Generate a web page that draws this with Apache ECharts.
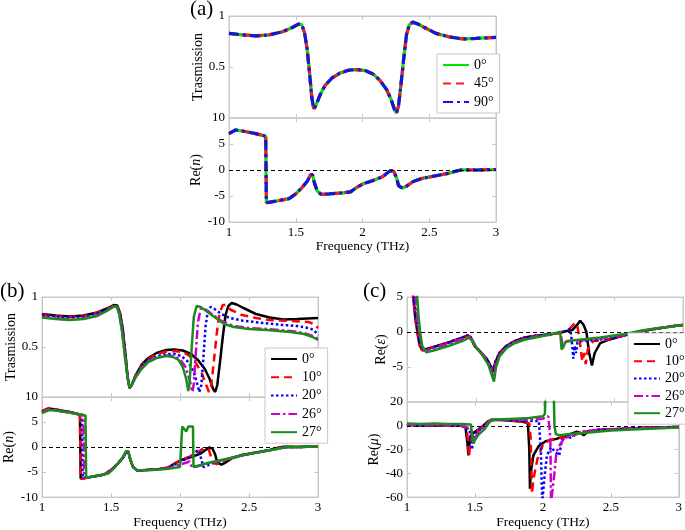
<!DOCTYPE html>
<html><head><meta charset="utf-8">
<script src="https://cdn.jsdelivr.net/npm/echarts@6/dist/echarts.min.js"></script>
<style>html,body{margin:0;padding:0;background:#fff}#c{width:685px;height:530px}</style>
</head><body><div id="c"></div>
<script>
// ---------------- DATA ----------------
// Panel (a): transmission (0°, 45°, 90° coincide)
const fA_T = [1.00,1.10,1.20,1.30,1.40,1.47,1.52,1.545,1.565,1.585,1.605,1.62,1.635,1.65,1.68,1.72,1.77,1.83,1.90,1.96,2.02,2.08,2.13,2.18,2.215,2.24,2.255,2.27,2.29,2.31,2.33,2.35,2.375,2.41,2.46,2.55,2.65,2.75,2.85,3.00];
const A_T = [0.83,0.815,0.805,0.815,0.845,0.885,0.92,0.915,0.84,0.68,0.42,0.2,0.09,0.12,0.22,0.32,0.39,0.44,0.47,0.475,0.465,0.43,0.37,0.28,0.18,0.08,0.05,0.12,0.35,0.60,0.82,0.91,0.94,0.925,0.89,0.83,0.795,0.775,0.78,0.79];
// Panel (a): Re(n)
const fA_n = [1.00,1.05,1.10,1.20,1.275,1.28,1.28,1.35,1.45,1.50,1.55,1.59,1.61,1.625,1.64,1.66,1.69,1.75,1.85,1.91,1.96,2.01,2.08,2.15,2.19,2.21,2.235,2.255,2.27,2.30,2.33,2.38,2.45,2.55,2.65,2.72,2.75,2.85,3.00];
const A_n = [7.0,7.7,7.5,7.0,6.5,6.3,-6.3,-6.0,-5.5,-4.6,-3.3,-2.0,-0.9,-0.9,-2.5,-4.0,-4.7,-4.6,-4.4,-4.2,-3.3,-2.6,-2.0,-1.3,-0.5,-0.1,-0.3,-1.5,-3.0,-3.5,-3.1,-2.2,-1.6,-1.1,-0.6,-0.1,0.05,0.0,0.1];

// Panel (b): transmission (0° equals panel a)
const fB_T10 = [1.00,1.10,1.20,1.30,1.40,1.47,1.52,1.545,1.565,1.585,1.605,1.62,1.635,1.65,1.68,1.72,1.77,1.83,1.90,1.96,2.02,2.07,2.12,2.16,2.19,2.21,2.225,2.245,2.265,2.285,2.31,2.33,2.37,2.45,2.55,2.65,2.80,2.93,2.97,3.00];
const B_T10 = [0.825,0.81,0.80,0.81,0.84,0.88,0.915,0.91,0.84,0.68,0.42,0.2,0.09,0.12,0.22,0.31,0.38,0.43,0.455,0.46,0.45,0.41,0.33,0.23,0.12,0.05,0.10,0.35,0.62,0.83,0.92,0.92,0.87,0.82,0.79,0.77,0.76,0.75,0.73,0.69];
const fB_T20 = [1.00,1.10,1.20,1.30,1.40,1.47,1.52,1.545,1.565,1.585,1.605,1.62,1.635,1.65,1.68,1.72,1.77,1.83,1.90,1.96,2.01,2.06,2.10,2.125,2.14,2.155,2.17,2.185,2.20,2.22,2.25,2.30,2.36,2.45,2.60,2.75,2.85,2.93,2.97,3.00];
const B_T20 = [0.82,0.805,0.795,0.805,0.835,0.875,0.91,0.905,0.83,0.67,0.41,0.2,0.09,0.12,0.21,0.30,0.37,0.41,0.43,0.43,0.41,0.35,0.25,0.13,0.05,0.12,0.40,0.70,0.85,0.90,0.88,0.83,0.79,0.765,0.74,0.72,0.71,0.69,0.67,0.62];
const fB_T26 = [1.00,1.10,1.20,1.30,1.40,1.47,1.52,1.54,1.56,1.58,1.60,1.62,1.635,1.65,1.68,1.72,1.77,1.83,1.90,1.95,2.00,2.04,2.07,2.09,2.10,2.115,2.13,2.15,2.17,2.22,2.30,2.39,2.50,2.63,2.80,2.90,2.96,3.00];
const B_T26 = [0.80,0.785,0.775,0.785,0.815,0.865,0.905,0.905,0.83,0.66,0.42,0.2,0.09,0.12,0.20,0.285,0.355,0.395,0.415,0.41,0.38,0.30,0.17,0.05,0.13,0.45,0.75,0.88,0.89,0.84,0.76,0.71,0.69,0.68,0.66,0.64,0.61,0.58];
const fB_T27 = [1.00,1.10,1.20,1.30,1.40,1.47,1.52,1.54,1.56,1.58,1.60,1.62,1.635,1.65,1.68,1.72,1.77,1.83,1.90,1.95,1.99,2.02,2.045,2.06,2.07,2.085,2.10,2.12,2.15,2.20,2.25,2.32,2.39,2.50,2.63,2.80,2.90,2.96,3.00];
const B_T27 = [0.795,0.78,0.77,0.78,0.81,0.86,0.905,0.905,0.83,0.66,0.42,0.2,0.09,0.12,0.20,0.28,0.35,0.39,0.41,0.40,0.37,0.30,0.18,0.06,0.15,0.50,0.80,0.91,0.90,0.85,0.80,0.73,0.70,0.68,0.67,0.65,0.63,0.60,0.57];

// Panel (b): Re(n) (0° equals panel a)
const fB_n10 = [1.00,1.05,1.10,1.20,1.275,1.28,1.28,1.35,1.45,1.50,1.55,1.59,1.61,1.625,1.64,1.66,1.69,1.75,1.85,1.91,1.96,2.01,2.07,2.13,2.17,2.19,2.21,2.225,2.24,2.27,2.30,2.35,2.45,2.55,2.65,2.72,2.75,2.85,3.00];
const B_n10 = [7.2,7.8,7.5,7.0,6.5,6.4,-6.4,-6.0,-5.5,-4.6,-3.3,-2.0,-0.9,-0.9,-2.5,-4.0,-4.7,-4.6,-4.4,-4.1,-3.3,-2.5,-1.9,-1.0,-0.3,-0.2,-0.6,-2.0,-3.2,-3.4,-3.0,-2.4,-1.6,-1.1,-0.6,-0.1,0.05,0.0,0.1];
const fB_n20 = [1.00,1.05,1.10,1.20,1.29,1.295,1.295,1.35,1.45,1.50,1.55,1.59,1.61,1.625,1.64,1.66,1.69,1.75,1.85,1.91,1.96,2.01,2.06,2.10,2.125,2.14,2.155,2.17,2.19,2.24,2.30,2.40,2.50,2.60,2.70,2.76,2.85,3.00];
const B_n20 = [7.0,7.6,7.4,6.9,6.4,6.3,-6.2,-6.0,-5.5,-4.6,-3.3,-2.0,-0.9,-0.9,-2.5,-4.0,-4.7,-4.6,-4.4,-4.2,-3.5,-2.8,-2.2,-1.4,-0.7,-0.8,-2.5,-4.0,-3.8,-3.2,-2.7,-2.0,-1.4,-0.9,-0.3,0.0,0.0,0.1];
const fB_n26 = [1.00,1.05,1.10,1.20,1.30,1.305,1.305,1.35,1.45,1.50,1.55,1.59,1.61,1.625,1.64,1.66,1.69,1.75,1.85,1.91,1.96,2.01,2.05,2.07,2.085,2.10,2.15,2.20,2.30,2.40,2.50,2.60,2.70,2.77,2.85,3.00];
const B_n26 = [6.9,7.5,7.3,6.9,6.4,6.3,-6.2,-6.0,-5.5,-4.6,-3.3,-2.0,-0.9,-0.9,-2.5,-4.0,-4.7,-4.6,-4.4,-4.3,-3.8,-3.4,-3.1,-2.8,-4.0,-4.0,-3.7,-3.3,-2.7,-2.0,-1.4,-0.9,-0.4,0.0,0.0,0.1];
const fB_n27 = [1.00,1.05,1.10,1.20,1.315,1.32,1.32,1.40,1.48,1.52,1.56,1.59,1.61,1.625,1.64,1.66,1.69,1.80,1.90,2.00,2.012,2.016,2.03,2.045,2.06,2.094,2.098,2.20,2.30,2.40,2.50,2.60,2.70,2.78,2.85,3.00];
const B_n27 = [6.8,7.4,7.3,6.9,6.3,6.2,-6.1,-5.8,-5.3,-4.3,-3.0,-1.8,-0.8,-0.9,-2.5,-4.0,-4.7,-4.6,-4.4,-4.0,-4.0,4.1,4.2,3.1,4.1,4.1,-4.0,-3.2,-2.6,-2.0,-1.4,-0.9,-0.4,0.0,0.0,0.1];

// Panel (c): Re(eps)
const fC_e0 = [1.00,1.04,1.06,1.075,1.09,1.11,1.20,1.30,1.40,1.44,1.46,1.49,1.53,1.58,1.61,1.625,1.64,1.67,1.72,1.78,1.85,1.95,2.05,2.12,2.20,2.24,2.255,2.28,2.30,2.32,2.34,2.36,2.40,2.45,2.55,2.65,2.75,2.85,2.95,3.00];
const C_e0 = [15,6,2,0,-1.8,-2.6,-2.1,-1.5,-0.8,-0.5,-0.7,-2.0,-2.8,-3.9,-5.0,-5.7,-4.3,-3.0,-2.0,-1.3,-0.8,-0.5,-0.3,0.0,0.3,1.2,1.6,1.0,0.0,-3.0,-4.8,-3.0,-1.6,-1.2,-0.6,-0.1,0.3,0.6,0.9,1.0];
const fC_e10 = [1.00,1.04,1.06,1.075,1.09,1.11,1.20,1.30,1.40,1.44,1.46,1.49,1.53,1.58,1.61,1.625,1.64,1.67,1.72,1.78,1.85,1.95,2.05,2.12,2.17,2.20,2.215,2.235,2.25,2.27,2.285,2.295,2.31,2.35,2.45,2.55,2.65,2.75,2.85,2.95,3.00];
const C_e10 = [15,6,2,0,-1.8,-2.6,-2.1,-1.5,-0.8,-0.5,-0.7,-2.0,-2.8,-3.9,-5.0,-5.6,-4.3,-3.0,-2.0,-1.3,-0.8,-0.5,-0.4,-0.1,0.3,0.9,1.3,0.8,-1.0,-4.2,-3.0,-4.6,-2.5,-1.3,-1.1,-0.6,-0.1,0.3,0.6,0.9,1.0];
const fC_e20 = [1.00,1.045,1.065,1.08,1.095,1.115,1.20,1.30,1.40,1.44,1.46,1.49,1.53,1.58,1.61,1.625,1.64,1.67,1.72,1.78,1.85,1.95,2.05,2.12,2.16,2.18,2.19,2.20,2.205,2.215,2.225,2.235,2.26,2.32,2.45,2.55,2.65,2.75,2.85,2.95,3.00];
const C_e20 = [15,6,2,0,-1.8,-2.6,-2.1,-1.5,-0.8,-0.5,-0.7,-2.0,-2.8,-3.9,-5.0,-5.6,-4.3,-3.0,-2.0,-1.3,-0.8,-0.5,-0.3,0.0,0.2,0.4,-0.5,-2.5,-3.8,-2.0,-3.0,-1.5,-1.3,-1.2,-1.0,-0.6,-0.1,0.3,0.6,0.9,1.0];
const fC_e26 = [1.00,1.06,1.075,1.09,1.105,1.125,1.20,1.30,1.40,1.45,1.47,1.50,1.55,1.59,1.615,1.63,1.645,1.67,1.72,1.78,1.85,1.95,2.05,2.11,2.12,2.13,2.14,2.16,2.25,2.35,2.45,2.55,2.65,2.75,2.85,2.95,3.00];
const C_e26 = [15,6,2,0,-1.8,-2.7,-2.3,-1.7,-1.0,-0.7,-1.0,-2.1,-3.2,-4.5,-5.8,-6.5,-4.8,-3.3,-2.2,-1.5,-1.0,-0.6,-0.3,0.0,-1.0,-2.3,-1.6,-1.3,-1.2,-1.0,-0.8,-0.5,-0.1,0.3,0.6,0.9,1.0];
const fC_e27 = [1.00,1.07,1.085,1.095,1.11,1.14,1.20,1.30,1.40,1.45,1.47,1.50,1.55,1.59,1.615,1.63,1.645,1.67,1.72,1.78,1.85,1.95,2.05,2.11,2.12,2.135,2.15,2.20,2.30,2.40,2.50,2.60,2.70,2.80,2.90,3.00];
const C_e27 = [15,6,2,0,-2.0,-2.9,-2.6,-2.0,-1.3,-0.8,-1.2,-2.2,-3.4,-4.7,-6.2,-7.1,-5.0,-3.5,-2.3,-1.6,-1.1,-0.7,-0.3,0.0,-2.5,-2.0,-1.4,-1.2,-1.0,-0.8,-0.5,-0.2,0.2,0.5,0.75,1.0];

// Panel (c): Re(mu)
const fC_m0 = [1.00,1.05,1.10,1.20,1.30,1.40,1.43,1.445,1.452,1.46,1.47,1.50,1.55,1.60,1.65,1.75,1.85,1.89,1.90,1.905,1.91,1.93,1.97,2.02,2.10,2.18,2.25,2.28,2.30,2.33,2.40,2.60,2.80,3.00];
const C_m0 = [1.5,0.5,0.0,0.5,0.0,0.0,-1,-15,-25,-15,-8,-5,-1,4,5,4.5,3.5,2,-20,-53,-40,-25,-17,-13,-11,-8,-5,-6,-8,-5,-3.5,-2.5,-1.5,-1.0];
const fC_m10 = [1.00,1.05,1.10,1.20,1.30,1.40,1.44,1.452,1.457,1.465,1.48,1.52,1.58,1.62,1.70,1.80,1.90,1.91,1.915,1.92,1.93,1.96,2.00,2.05,2.12,2.20,2.25,2.30,2.40,2.60,2.80,3.00];
const C_m10 = [1.5,0.5,0.0,0.5,0.0,0.0,-2,-18,-26,-15,-8,-4,2,5,5,4,2,-10,-35,-57,-45,-28,-16,-12,-10,-9.5,-6,-5,-3.5,-2.5,-1.5,-1.0];
const fC_m20 = [1.00,1.05,1.10,1.20,1.30,1.40,1.46,1.47,1.478,1.49,1.52,1.58,1.62,1.70,1.80,1.90,1.97,1.985,1.995,2.01,2.03,2.06,2.09,2.12,2.14,2.17,2.20,2.25,2.30,2.40,2.60,2.80,3.00];
const C_m20 = [1.5,0.5,0.0,0.5,0.0,0.0,-3,-12,-20,-10,-5,1,5,5,4.5,4,4,-20,-65,-45,-25,-18,-22,-25,-12,-8,-10,-7,-5,-3.5,-2.5,-1.5,-1.0];
const fC_m26 = [1.00,1.05,1.10,1.20,1.30,1.40,1.47,1.48,1.488,1.50,1.53,1.58,1.62,1.70,1.80,1.90,2.00,2.04,2.055,2.06,2.07,2.085,2.10,2.13,2.16,2.20,2.25,2.30,2.40,2.60,2.80,3.00];
const C_m26 = [1.5,0.5,0.0,0.5,0.0,0.0,-2,-10,-16,-10,-5,1,5,5,5,5,6,8,-10,-65,-65,-40,-22,-15,-10,-9,-7,-5,-3.5,-2.5,-1.5,-1.0];
const fC_m27 = [1.00,1.10,1.20,1.30,1.40,1.47,1.48,1.49,1.50,1.53,1.57,1.62,1.70,1.80,1.90,2.00,2.015,2.022,2.078,2.085,2.095,2.12,2.20,2.30,2.50,2.70,3.00];
const C_m27 = [2.0,1.5,2.0,1.5,1.5,1.0,-8,-15,-12,-7,-3,5,5.5,6,6.5,8,10,40,40,0,-7,-8,-7,-6,-4,-3,-1.5];

// Legend names
const namesA = ['0°','45°','90°'];
const namesB = ['0° ','10°','20°','26°','27°'];

// ---------------- CHART ----------------
const FONT = '"Liberation Serif","Times New Roman",serif';
const GRAY = '#c8c8c8';
function pts(f, v){ const n=Math.min(f.length,v.length); const o=[]; for(let i=0;i<n;i++) o.push([f[i],v[i]]); return o; }

const grids = [
  {left:229, top:16,  width:267, height:102},
  {left:229, top:118, width:267, height:104},
  {left:42,  top:297, width:276, height:100},
  {left:42,  top:397, width:276, height:105},
  {left:407, top:297, width:276, height:105},
  {left:407, top:402, width:276, height:101}
].map(g => Object.assign({show:true, borderColor:GRAY, borderWidth:1, backgroundColor:'transparent'}, g));

const xAxes = [], yAxes = [];
const nameRich = {
  r:{fontFamily:FONT, fontSize:14, color:'#000'},
  i:{fontFamily:FONT, fontSize:14, color:'#000', fontStyle:'italic'}
};
function addAxes(gi, ymin, ymax, yint, hideVal, bottom, yname, ygap){
  xAxes.push({gridIndex:gi, type:'value', min:1, max:3, interval:0.5, position:'bottom',
    axisLine:{show:true, onZero:false, lineStyle:{color:GRAY}},
    axisTick:{show:true, inside:true, length:4, lineStyle:{color:GRAY}},
    axisLabel:{show:bottom, color:'#000', fontFamily:FONT, fontSize:13, margin:4},
    splitLine:{show:false},
    name: bottom ? 'Frequency (THz)' : '', nameLocation:'middle', nameGap:15,
    nameTextStyle:{color:'#000', fontFamily:FONT, fontSize:13.5}});
  xAxes.push({gridIndex:gi, type:'value', min:1, max:3, interval:0.5, position:'top',
    axisLine:{show:true, onZero:false, lineStyle:{color:GRAY}},
    axisTick:{show:true, inside:true, length:4, lineStyle:{color:GRAY}},
    axisLabel:{show:false}, splitLine:{show:false}});
  yAxes.push({gridIndex:gi, type:'value', min:ymin, max:ymax, interval:yint, position:'left',
    axisLine:{show:true, onZero:false, lineStyle:{color:GRAY}},
    axisTick:{show:true, inside:true, length:4, lineStyle:{color:GRAY}},
    axisLabel:{color:'#000', fontFamily:FONT, fontSize:13, margin:4,
      formatter: v => (hideVal !== null && Math.abs(v - hideVal) < 1e-9) ? '' : String(v)},
    splitLine:{show:false},
    name: yname, nameLocation:'middle', nameRotate:90, nameGap:ygap,
    nameTextStyle:{color:'#000', fontFamily:FONT, fontSize:14, rich:nameRich}});
  yAxes.push({gridIndex:gi, type:'value', min:ymin, max:ymax, interval:yint, position:'right',
    axisLine:{show:true, onZero:false, lineStyle:{color:GRAY}},
    axisTick:{show:true, inside:true, length:4, lineStyle:{color:GRAY}},
    axisLabel:{show:false}, splitLine:{show:false}});
}
addAxes(0, 0, 1, 0.5, 0, false, '{r|Trasmission}', 19);
addAxes(1, -10, 10, 5, null, true, '{r|Re(}{i|n}{r|)}', 21);
addAxes(2, 0, 1, 0.5, 0, false, '{r|Trasmission}', 22);
addAxes(3, -10, 10, 5, null, true, '{r|Re(}{i|n}{r|)}', 22);
addAxes(4, -10, 5, 5, -10, false, '{r|Re(}{i|ε}{r|)}', 17);
addAxes(5, -60, 20, 20, null, true, '{r|Re(}{i|μ}{r|)}', 22);

const ST = {
  a0:{color:'#00e600', width:3.2, type:'solid'},
  a45:{color:'#ff1a1a', width:3.2, type:[8,5]},
  a90:{color:'#1515e0', width:3.2, type:[10,4,3,4]},
  b0:{color:'#000000', width:2.5, type:'solid'},
  b10:{color:'#ff0000', width:2.5, type:[8,5]},
  b20:{color:'#0000ff', width:2.5, type:[2.5,2.5]},
  b26:{color:'#cc00cc', width:2.5, type:[9,3,2.5,3]},
  b27:{color:'#1a8c1a', width:2.5, type:'solid'}
};
const zeroLine = {silent:true, symbol:'none', label:{show:false},
  lineStyle:{color:'#000', type:[4,3], width:1}, data:[{yAxis:0}], animation:false};

function ser(name, gi, data, st, z, mark){
  const s = {name, type:'line', xAxisIndex:2*gi, yAxisIndex:2*gi, data, symbol:'none', showSymbol:false,
    lineStyle:{color:st.color, width:st.width, type:st.type}, itemStyle:{color:st.color},
    z:z, clip:true, animation:false, emphasis:{disabled:true}};
  if (mark) s.markLine = zeroLine;
  return s;
}

const series = [
  ser(namesA[0], 0, pts(fA_T, A_T), ST.a0, 2),
  ser(namesA[1], 0, pts(fA_T, A_T), ST.a45, 3),
  ser(namesA[2], 0, pts(fA_T, A_T), ST.a90, 4),
  ser(namesA[0], 1, pts(fA_n, A_n), ST.a0, 2, true),
  ser(namesA[1], 1, pts(fA_n, A_n), ST.a45, 3),
  ser(namesA[2], 1, pts(fA_n, A_n), ST.a90, 4),

  ser(namesB[0], 2, pts(fA_T, A_T), ST.b0, 2),
  ser(namesB[1], 2, pts(fB_T10, B_T10), ST.b10, 3),
  ser(namesB[2], 2, pts(fB_T20, B_T20), ST.b20, 4),
  ser(namesB[3], 2, pts(fB_T26, B_T26), ST.b26, 5),
  ser(namesB[4], 2, pts(fB_T27, B_T27), ST.b27, 6),
  ser(namesB[0], 3, pts(fA_n, A_n), ST.b0, 2, true),
  ser(namesB[1], 3, pts(fB_n10, B_n10), ST.b10, 3),
  ser(namesB[2], 3, pts(fB_n20, B_n20), ST.b20, 4),
  ser(namesB[3], 3, pts(fB_n26, B_n26), ST.b26, 5),
  ser(namesB[4], 3, pts(fB_n27, B_n27), ST.b27, 6),

  ser(namesB[0], 4, pts(fC_e0, C_e0), ST.b0, 2, true),
  ser(namesB[1], 4, pts(fC_e10, C_e10), ST.b10, 3),
  ser(namesB[2], 4, pts(fC_e20, C_e20), ST.b20, 4),
  ser(namesB[3], 4, pts(fC_e26, C_e26), ST.b26, 5),
  ser(namesB[4], 4, pts(fC_e27, C_e27), ST.b27, 6),
  ser(namesB[0], 5, pts(fC_m0, C_m0), ST.b0, 2, true),
  ser(namesB[1], 5, pts(fC_m10, C_m10), ST.b10, 3),
  ser(namesB[2], 5, pts(fC_m20, C_m20), ST.b20, 4),
  ser(namesB[3], 5, pts(fC_m26, C_m26), ST.b26, 5),
  ser(namesB[4], 5, pts(fC_m27, C_m27), ST.b27, 6)
];

function legend(data, left, top, gap){
  return {data, orient:'vertical', left, top, itemWidth:26, itemHeight:14, itemGap:gap,
    padding:[4,6,4,5], borderColor:GRAY, borderWidth:1, backgroundColor:'#fff',
    selectedMode:false, z:20,
    itemStyle:{opacity:0, borderWidth:0},
    formatter: n => n.trim(),
    textStyle:{fontFamily:FONT, fontSize:14, color:'#000'}};
}

const chart = echarts.init(document.getElementById('c'), null, {renderer:'canvas'});
chart.setOption({
  animation:false,
  backgroundColor:'#fff',
  grid: grids,
  xAxis: xAxes,
  yAxis: yAxes,
  legend: [
    legend(namesA, 437, 54, 4.5),
    legend(namesB, 265, 348, 4.3),
    legend(namesB, 628, 333, 3.3)
  ],
  graphic: [
    {type:'text', left:190, top:-1, style:{text:'(a)', font:'21px "Liberation Serif", serif', fill:'#000'}},
    {type:'text', left:0, top:281, style:{text:'(b)', font:'21px "Liberation Serif", serif', fill:'#000'}},
    {type:'text', left:363, top:281, style:{text:'(c)', font:'21px "Liberation Serif", serif', fill:'#000'}}
  ],
  series
});
</script></body></html>
